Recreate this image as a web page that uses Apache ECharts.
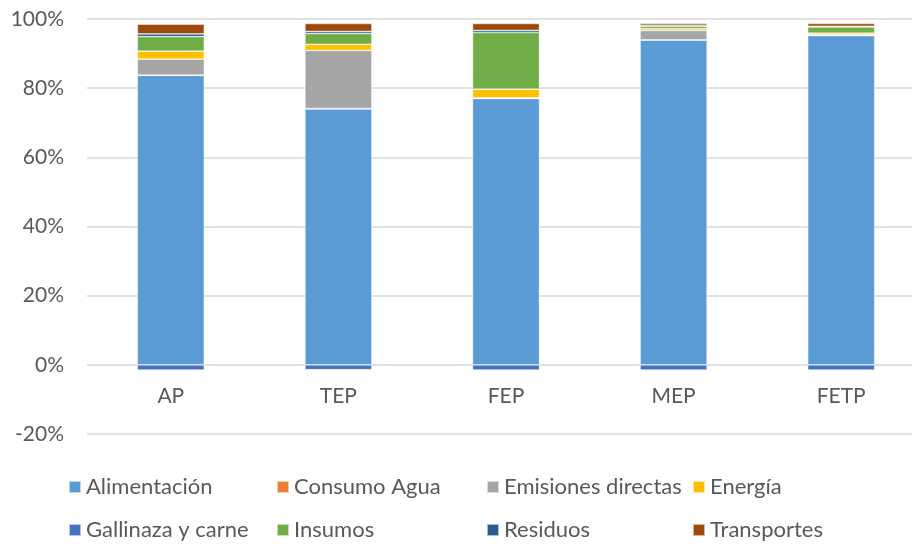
<!DOCTYPE html>
<html>
<head>
<meta charset="utf-8">
<script src="https://cdn.jsdelivr.net/npm/echarts@6/dist/echarts.min.js"></script>
<style>html,body{margin:0;padding:0;background:#fff;overflow:hidden;width:912px;height:544px;}#c{width:925px;height:544px;}</style>
</head>
<body>
<div id="c"></div>
<script>
const categories = ['AP', 'TEP', 'FEP', 'MEP', 'FETP'];
const seriesNames = ['Alimentación', 'Consumo Agua', 'Emisiones directas', 'Energía', 'Gallinaza y carne', 'Insumos', 'Residuos', 'Transportes'];
const colors = ['#5B9BD5', '#ED7D31', '#A5A5A5', '#FFC000', '#4472C4', '#70AD47', '#255E91', '#9E480E'];
const alimentacion = [83.7, 74.0, 77.0, 93.9, 95.2];
const consumoAgua = [0.1, 0.1, 0.1, 0.1, 0.1];
const emisiones = [4.6, 16.8, 0.1, 2.7, 0.1];
const energia = [2.3, 1.8, 2.5, 0.5, 0.5];
const gallinaza = [-1.5, -1.4, -1.5, -1.5, -1.5];
const insumos = [4.2, 3.1, 16.4, 0.7, 1.8];
const residuos = [0.8, 0.6, 0.6, 0.3, 0.2];
const transportes = [2.8, 2.3, 2.0, 0.5, 0.8];
const yTicks = { min: -20, max: 100, interval: 20 };

const values = [alimentacion, consumoAgua, emisiones, energia, gallinaza, insumos, residuos, transportes];
const font = 'Lato';
const legendPos = [
  [68, 476], [276, 476], [486, 476], [692, 476],
  [68, 519], [276, 519], [486, 519], [692, 519]
];

const chart = echarts.init(document.getElementById('c'), null, { renderer: 'canvas' });
chart.setOption({
  animation: false,
  color: colors,
  textStyle: { fontFamily: font },
  grid: { left: 87, top: 19, right: 0, height: 415, containLabel: false },
  legend: seriesNames.map((n, i) => ({
    data: [n],
    left: legendPos[i][0],
    top: legendPos[i][1],
    itemWidth: 12, itemHeight: 12, itemGap: 0,
    icon: 'rect',
    padding: 0,
    textStyle: { fontFamily: font, fontSize: 22, color: '#595959', padding: [0, 0, 0, 0] }
  })),
  xAxis: {
    type: 'category',
    data: categories,
    offset: -69,
    axisLine: { show: false, onZero: false },
    axisTick: { show: false },
    axisLabel: { fontSize: 21, color: '#595959', margin: 21, fontFamily: font }
  },
  yAxis: {
    type: 'value',
    min: yTicks.min, max: yTicks.max, interval: yTicks.interval,
    axisLine: { show: false },
    axisTick: { show: false },
    splitLine: { lineStyle: { color: '#d9d9d9', width: 1.5 } },
    axisLabel: { formatter: '{value}%', fontSize: 21, color: '#595959', margin: 23, fontFamily: font }
  },
  series: seriesNames.map((n, i) => ({
    name: n,
    type: 'bar',
    stack: 'total',
    barWidth: 67,
    data: values[i],
    itemStyle: { color: colors[i], borderColor: 'rgba(255,255,255,0.6)', borderWidth: 0.7 }
  }))
});
</script>
</body>
</html>
